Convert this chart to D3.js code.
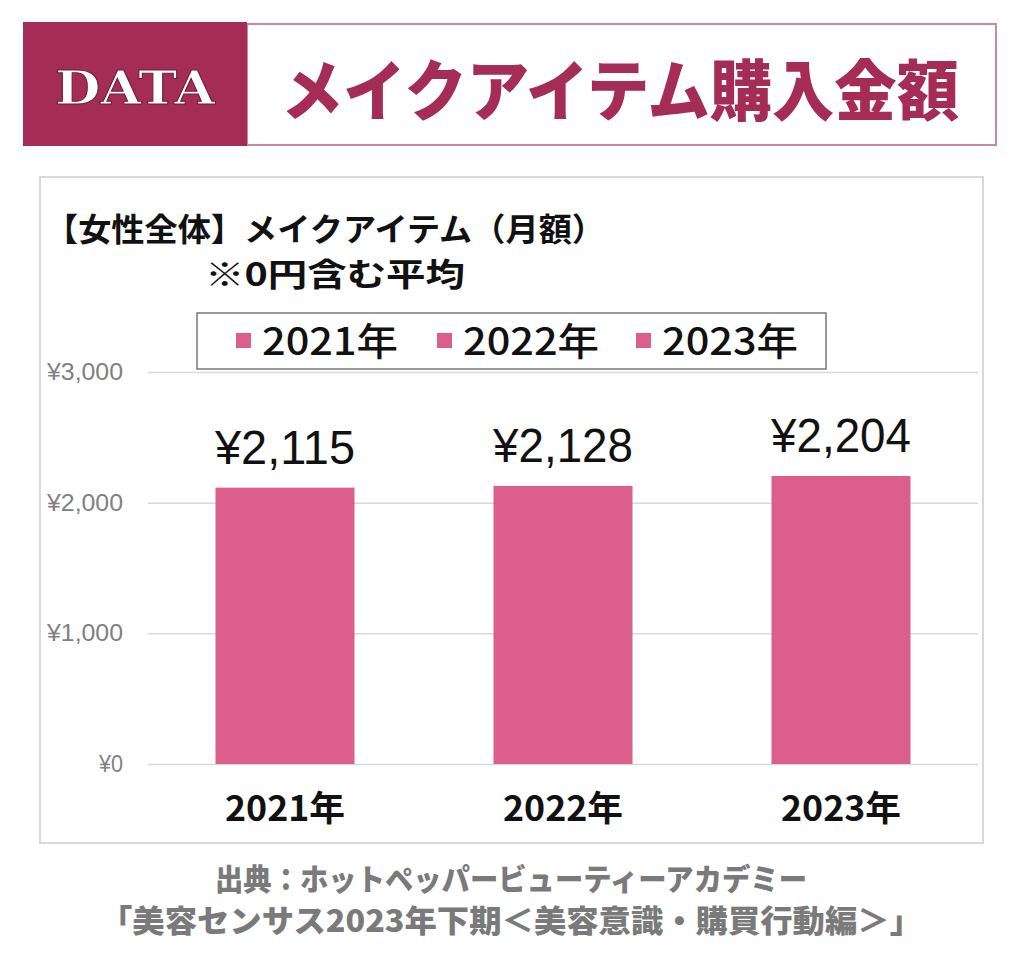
<!DOCTYPE html>
<html>
<head>
<meta charset="utf-8">
<script src="https://cdn.jsdelivr.net/npm/d3@7"></script>
<style>
  body { margin: 0; background: #fff; }
  svg { display: block; }
</style>
</head>
<body>
<div id="chart"></div>
<script>
// DATA ------------------------------
const years = ["2021年", "2022年", "2023年"];
const amounts = [2115, 2128, 2204];
const yTicks = [0, 1000, 2000, 3000];
const legendLabels = ["2021年", "2022年", "2023年"];

const width = 1024, height = 962;
const jp = "'Noto Sans CJK JP', 'Noto Sans', sans-serif";
const num = "'Liberation Sans', Arial, sans-serif";
const pink = "#dc5f8b";

let svg = d3.select("#chart").append("svg")
    .attr("width", width)
    .attr("height", height);

// HEADER ------------------------------
svg.append("rect")
    .attr("x", 247).attr("y", 24).attr("width", 749).attr("height", 121)
    .attr("fill", "#fff").attr("stroke", "#c98a9e").attr("stroke-width", 2);
svg.append("rect")
    .attr("x", 23).attr("y", 22).attr("width", 224).attr("height", 124)
    .attr("fill", "#a42c55");
svg.append("text")
    .attr("x", 135).attr("y", 104)
    .attr("text-anchor", "middle")
    .attr("font-family", "'DejaVu Serif', serif")
    .attr("font-weight", "bold")
    .attr("font-size", 46)
    .attr("textLength", 160)
    .attr("lengthAdjust", "spacingAndGlyphs")
    .attr("fill", "#fff")
    .attr("stroke", "#6e1a37").attr("stroke-width", 1)
    .text("DATA");
svg.append("text")
    .attr("x", 620).attr("y", 115)
    .attr("text-anchor", "middle")
    .attr("font-family", jp)
    .attr("font-weight", "900")
    .attr("font-size", 66)
    .attr("textLength", 678)
    .attr("lengthAdjust", "spacingAndGlyphs")
    .attr("fill", "#a42c55")
    .text("メイクアイテム購入金額");

// PANEL ------------------------------
svg.append("rect")
    .attr("x", 40).attr("y", 177).attr("width", 943).attr("height", 666)
    .attr("fill", "#fff").attr("stroke", "#d9d9d9").attr("stroke-width", 2);

svg.append("text")
    .attr("x", 45).attr("y", 241)
    .attr("font-family", jp).attr("font-weight", "bold").attr("font-size", 32)
    .attr("textLength", 560)
    .attr("lengthAdjust", "spacingAndGlyphs")
    .attr("fill", "#111")
    .text("【女性全体】メイクアイテム（月額）");
svg.append("text")
    .attr("x", 205).attr("y", 286)
    .attr("font-family", jp).attr("font-weight", "bold").attr("font-size", 32)
    .attr("textLength", 260)
    .attr("lengthAdjust", "spacingAndGlyphs")
    .attr("fill", "#111")
    .text("※0円含む平均");

// SCALES ------------------------------
let xScale = d3.scaleBand()
    .domain(years)
    .range([146, 980])
    .paddingInner(0.5)
    .paddingOuter(0.25);

let yScale = d3.scaleLinear()
    .domain([0, 3000])
    .range([764, 372]);

let yAxis = d3.axisLeft(yScale)
    .tickValues(yTicks)
    .tickSize(-(978 - 148))
    .tickPadding(25)
    .tickFormat(d => "¥" + d3.format(",")(d));

let yAxisGroup = svg.append("g")
    .attr("class", "y-axis")
    .attr("transform", "translate(148,0)")
    .call(yAxis);
yAxisGroup.select(".domain").remove();
yAxisGroup.selectAll(".tick line").attr("stroke", "#d9d9d9").attr("stroke-width", 1.5);
yAxisGroup.selectAll(".tick text")
    .attr("fill", "#808080")
    .attr("font-family", num)
    .attr("font-size", 23)
    .attr("textLength", d => d === 0 ? 24 : 76)
    .attr("lengthAdjust", "spacingAndGlyphs");

// LEGEND ------------------------------
svg.append("rect")
    .attr("x", 197).attr("y", 313).attr("width", 629).attr("height", 56)
    .attr("fill", "#fff").attr("stroke", "#777").attr("stroke-width", 1.5);
const legendX = [236, 437, 636];
let legend = svg.selectAll(".legend")
    .data(legendLabels)
    .enter().append("g")
    .attr("class", "legend")
    .attr("transform", (d, i) => "translate(" + legendX[i] + ",341)");
legend.append("rect")
    .attr("x", 0).attr("y", -8).attr("width", 15).attr("height", 15)
    .attr("fill", pink);
legend.append("text")
    .attr("x", 26).attr("y", 14)
    .attr("font-family", jp).attr("font-weight", "500").attr("font-size", 38)
    .attr("textLength", 136)
    .attr("lengthAdjust", "spacingAndGlyphs")
    .attr("fill", "#111")
    .text(d => d);

// BARS ------------------------------
let bars = svg.selectAll(".bar")
    .data(amounts)
    .enter().append("rect")
    .attr("class", "bar")
    .attr("x", (d, i) => xScale(years[i]))
    .attr("y", d => yScale(d))
    .attr("width", xScale.bandwidth())
    .attr("height", d => yScale(0) - yScale(d))
    .attr("fill", pink);

svg.selectAll(".value")
    .data(amounts)
    .enter().append("text")
    .attr("class", "value")
    .attr("x", (d, i) => xScale(years[i]) + xScale.bandwidth() / 2)
    .attr("y", d => yScale(d) - 24)
    .attr("text-anchor", "middle")
    .attr("font-family", num)
    .attr("font-size", 48)
    .attr("textLength", 140)
    .attr("lengthAdjust", "spacingAndGlyphs")
    .attr("fill", "#111")
    .text(d => "¥" + d3.format(",")(d));

// X LABELS ------------------------------
svg.selectAll(".xlabel")
    .data(years)
    .enter().append("text")
    .attr("class", "xlabel")
    .attr("x", d => xScale(d) + xScale.bandwidth() / 2)
    .attr("y", 821)
    .attr("text-anchor", "middle")
    .attr("font-family", jp).attr("font-weight", "bold").attr("font-size", 35)
    .attr("textLength", 120)
    .attr("lengthAdjust", "spacingAndGlyphs")
    .attr("fill", "#111")
    .text(d => d);

// SOURCE ------------------------------
svg.append("text")
    .attr("x", 511).attr("y", 890)
    .attr("text-anchor", "middle")
    .attr("font-family", jp).attr("font-weight", "900").attr("font-size", 30)
    .attr("textLength", 592)
    .attr("lengthAdjust", "spacingAndGlyphs")
    .attr("fill", "#7a7a7a")
    .text("出典：ホットペッパービューティーアカデミー");
svg.append("text")
    .attr("x", 511).attr("y", 932)
    .attr("text-anchor", "middle")
    .attr("font-family", jp).attr("font-weight", "900").attr("font-size", 31)
    .attr("textLength", 822)
    .attr("lengthAdjust", "spacingAndGlyphs")
    .attr("fill", "#7a7a7a")
    .text("「美容センサス2023年下期＜美容意識・購買行動編＞」");
</script>
</body>
</html>
